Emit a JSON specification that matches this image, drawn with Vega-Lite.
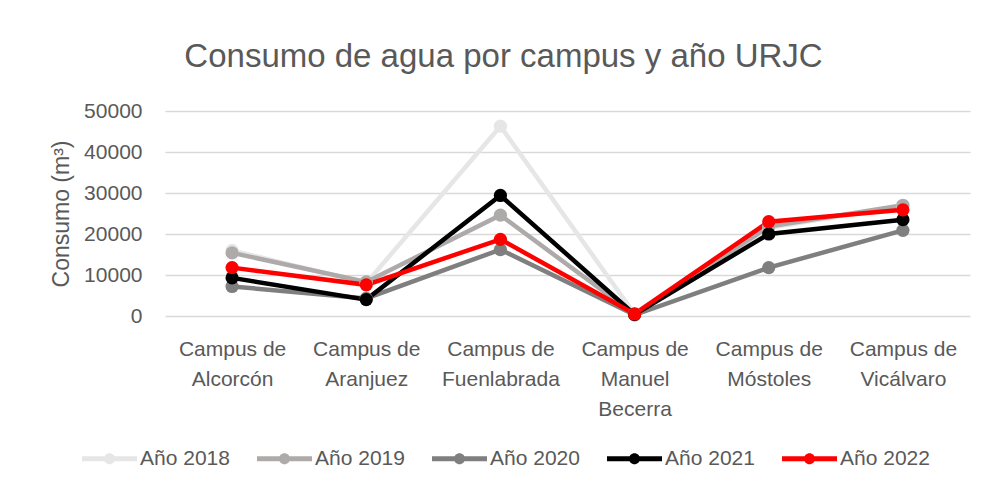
{
  "$schema": "https://vega.github.io/schema/vega-lite/v6.json",
  "width": 805,
  "height": 205,
  "autosize": {"type": "none"},
  "padding": {"left": 165, "top": 111, "right": 16, "bottom": 175},
  "background": "white",
  "title": {
    "text": "Consumo de agua por campus y año URJC",
    "font": "Liberation Sans",
    "fontSize": 33,
    "fontWeight": "normal",
    "color": "#595959",
    "anchor": "middle",
    "frame": "group",
    "dx": -64,
    "offset": 26
  },
  "data": {
    "values": [
      {"campus": "Campus de Alcorcón", "serie": "Año 2018", "consumo": 16000},
      {"campus": "Campus de Aranjuez", "serie": "Año 2018", "consumo": 8000},
      {"campus": "Campus de Fuenlabrada", "serie": "Año 2018", "consumo": 46300},
      {"campus": "Campus de Manuel Becerra", "serie": "Año 2018", "consumo": 500},
      {"campus": "Campus de Móstoles", "serie": "Año 2018", "consumo": 21500},
      {"campus": "Campus de Vicálvaro", "serie": "Año 2018", "consumo": 26800},
      {"campus": "Campus de Alcorcón", "serie": "Año 2019", "consumo": 15400},
      {"campus": "Campus de Aranjuez", "serie": "Año 2019", "consumo": 8300},
      {"campus": "Campus de Fuenlabrada", "serie": "Año 2019", "consumo": 24600},
      {"campus": "Campus de Manuel Becerra", "serie": "Año 2019", "consumo": 400},
      {"campus": "Campus de Móstoles", "serie": "Año 2019", "consumo": 21800},
      {"campus": "Campus de Vicálvaro", "serie": "Año 2019", "consumo": 27000},
      {"campus": "Campus de Alcorcón", "serie": "Año 2020", "consumo": 7200},
      {"campus": "Campus de Aranjuez", "serie": "Año 2020", "consumo": 4300},
      {"campus": "Campus de Fuenlabrada", "serie": "Año 2020", "consumo": 16200},
      {"campus": "Campus de Manuel Becerra", "serie": "Año 2020", "consumo": 300},
      {"campus": "Campus de Móstoles", "serie": "Año 2020", "consumo": 11800},
      {"campus": "Campus de Vicálvaro", "serie": "Año 2020", "consumo": 20900},
      {"campus": "Campus de Alcorcón", "serie": "Año 2021", "consumo": 9300},
      {"campus": "Campus de Aranjuez", "serie": "Año 2021", "consumo": 4000},
      {"campus": "Campus de Fuenlabrada", "serie": "Año 2021", "consumo": 29400},
      {"campus": "Campus de Manuel Becerra", "serie": "Año 2021", "consumo": 400},
      {"campus": "Campus de Móstoles", "serie": "Año 2021", "consumo": 20000},
      {"campus": "Campus de Vicálvaro", "serie": "Año 2021", "consumo": 23500},
      {"campus": "Campus de Alcorcón", "serie": "Año 2022", "consumo": 11800},
      {"campus": "Campus de Aranjuez", "serie": "Año 2022", "consumo": 7600},
      {"campus": "Campus de Fuenlabrada", "serie": "Año 2022", "consumo": 18700},
      {"campus": "Campus de Manuel Becerra", "serie": "Año 2022", "consumo": 500},
      {"campus": "Campus de Móstoles", "serie": "Año 2022", "consumo": 23000},
      {"campus": "Campus de Vicálvaro", "serie": "Año 2022", "consumo": 25900}
    ]
  },
  "mark": {
    "type": "line",
    "strokeWidth": 4.5,
    "point": {"filled": true, "size": 175, "opacity": 1}
  },
  "encoding": {
    "x": {
      "field": "campus",
      "type": "nominal",
      "sort": null,
      "scale": {"type": "point", "padding": 0.5},
      "axis": {
        "title": null,
        "labelAngle": 0,
        "domain": false,
        "ticks": false,
        "grid": false,
        "labelPadding": 22,
        "labelFont": "Liberation Sans",
        "labelFontSize": 21,
        "labelColor": "#595959",
        "labelLineHeight": 30,
        "labelLimit": 200,
        "labelExpr": "datum.value == 'Campus de Manuel Becerra' ? ['Campus de', 'Manuel', 'Becerra'] : ['Campus de', substring(datum.value, 10)]"
      }
    },
    "y": {
      "field": "consumo",
      "type": "quantitative",
      "scale": {"domain": [0, 50000], "nice": false},
      "axis": {
        "title": "Consumo (m³)",
        "titleFont": "Liberation Sans",
        "titleFontSize": 23,
        "titleFontWeight": "normal",
        "titleColor": "#595959",
        "titlePadding": 10,
        "values": [0, 10000, 20000, 30000, 40000, 50000],
        "format": "d",
        "domain": false,
        "ticks": false,
        "labelPadding": 23,
        "labelFont": "Liberation Sans",
        "labelFontSize": 21,
        "labelColor": "#595959",
        "gridColor": "#D9D9D9",
        "gridWidth": 1.5
      }
    },
    "color": {
      "field": "serie",
      "type": "nominal",
      "scale": {
        "domain": ["Año 2018", "Año 2019", "Año 2020", "Año 2021", "Año 2022"],
        "range": ["#E6E6E6", "#AEAAAA", "#7F7F7F", "#000000", "#FF0000"]
      },
      "legend": {
        "title": null,
        "orient": "none",
        "direction": "horizontal",
        "legendX": -66,
        "legendY": 337,
        "padding": 0,
        "symbolType": "M-2.75,-0.25 H2.75 V0.25 H-2.75 Z M-0.55,0 A0.55,0.55 0 1,1 0.55,0 A0.55,0.55 0 1,1 -0.55,0 Z",
        "symbolSize": 400,
        "symbolStrokeWidth": 0,
        "labelOffset": 20,
        "columnPadding": 27,
        "labelFont": "Liberation Sans",
        "labelFontSize": 21,
        "labelColor": "#595959",
        "encode": {
          "symbols": {
            "update": {
              "fill": {"scale": "color", "field": "value"},
              "strokeWidth": {"value": 0},
              "opacity": {"value": 1}
            }
          }
        }
      }
    }
  },
  "config": {
    "view": {"stroke": null}
  }
}
